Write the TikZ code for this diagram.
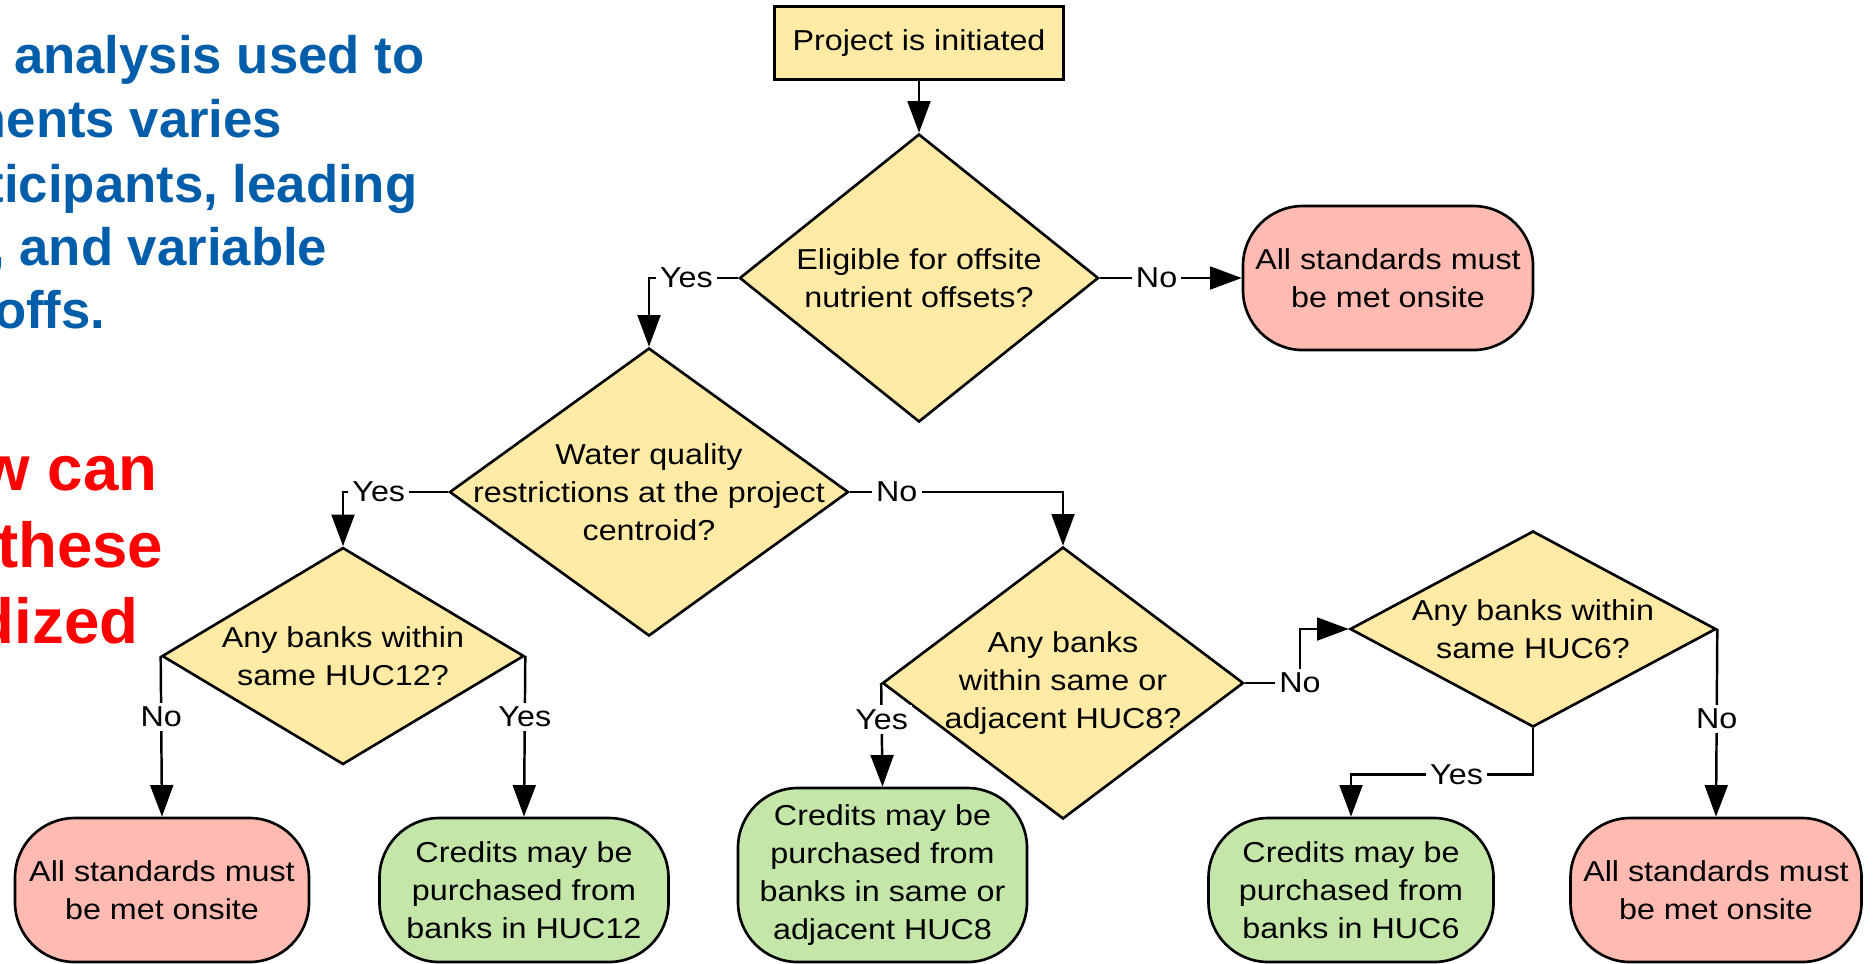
\documentclass[tikz,border=0pt]{standalone}
\usepackage{fontspec}
\setmainfont{Liberation Sans}
\newfontfamily\chartfont{Liberation Sans}[FakeStretch=1.12]
\usetikzlibrary{arrows.meta,shapes.geometric}

\definecolor{txtblue}{HTML}{005DAA}
\definecolor{txtred}{HTML}{FF0000}
\definecolor{qfill}{HTML}{FFEAA6}
\definecolor{nofill}{HTML}{FFBAB1}
\definecolor{okfill}{HTML}{C4E6A9}

\begin{document}
\begin{tikzpicture}[
  x=1cm, y=1cm,
  font=\chartfont\fontsize{8.2}{10.8}\selectfont,
  box/.style={draw, line width=0.75pt, fill=qfill, minimum width=2.89cm,
              minimum height=0.73cm, inner sep=0pt},
  ques/.style={diamond, draw, line width=0.75pt, fill=qfill, inner sep=0pt},
  qtext/.style={align=center, inner sep=0pt},
  term/.style={draw, line width=0.75pt, rounded corners=17pt, align=center,
               minimum width=2.89cm, minimum height=1.44cm, inner sep=0pt},
  onsite/.style={term, fill=nofill},
  credit/.style={term, fill=okfill},
  arr/.style={-{Triangle[length=9pt, width=6.5pt]}, line width=0.7pt},
  lab/.style={fill=white, inner sep=1.2pt},
  bluetxt/.style={anchor=base east, text=txtblue, inner sep=0pt,
                  font=\normalfont\fontsize{15}{18}\selectfont\bfseries},
  redtxt/.style={anchor=base east, text=txtred, inner sep=0pt,
                 font=\normalfont\fontsize{18.1}{21.7}\selectfont\bfseries}
]
\useasboundingbox (0,0) rectangle (18.73,-9.63);
\clip (0,0) rectangle (18.73,-9.63);

% ================= slide text, cut at the left edge =================
\node[bluetxt] (blue1) at (4.25,-0.73) {e analysis used to};
\node[bluetxt] (blue2) at (2.83,-1.37) {ments varies};
\node[bluetxt] (blue3) at (4.18,-2.02) {ticipants, leading};
\node[bluetxt] (blue4) at (3.28,-2.65) {, and variable};
\node[bluetxt] (blue5) at (1.06,-3.28) {offs.};
\node[redtxt] (red1) at (1.58,-4.90) {w can};
\node[redtxt] (red2) at (1.64,-5.67) {these};
\node[redtxt] (red3) at (1.39,-6.43) {dized};

% ================= top of the flow =================
\node[box] (proj) at (9.19,-0.43) {Project is initiated};
\node[ques, minimum width=3.59cm, minimum height=2.88cm,
      label={[qtext]center:{Eligible for offsite\\nutrient offsets?}}] (elig) at (9.19,-2.78) {};
\node[onsite, minimum width=2.90cm] (site1) at (13.88,-2.78) {All standards must\\be met onsite};
\node[ques, minimum width=3.99cm, minimum height=2.88cm,
      label={[qtext]center:{Water quality\\restrictions at the project\\centroid?}}] (wq) at (6.49,-4.92) {};

\draw[arr] (proj.south) -- (elig.north);
\draw[arr] (elig.east) -- node[lab, pos=0.4] {No} (site1.west);
\draw[arr] (elig.west) -| node[lab, pos=0.29] {Yes} (wq.north);

% ================= HUC12 branch =================
\node[ques, minimum width=3.62cm, minimum height=2.17cm,
      label={[qtext]center:{Any banks within\\same HUC12?}}] (huc12) at (3.43,-6.56) {};
\node[onsite, minimum width=2.94cm] (site2) at (1.62,-8.90) {All standards must\\be met onsite};
\node[credit] (cred12) at (5.24,-8.90) {Credits may be\\purchased from\\banks in HUC12};

\draw[arr] (wq.west) -| node[lab, pos=0.33] {Yes} (huc12.north);
\draw[arr] (huc12.west) -- node[lab, pos=0.38] {No} (site2.north);
\draw[arr] (huc12.east) -- node[lab, pos=0.38] {Yes} (cred12.north);

% ================= HUC8 / HUC6 branch =================
\node[ques, minimum width=3.61cm, minimum height=2.72cm,
      label={[qtext]center:{Any banks\\within same or\\adjacent HUC8?}}] (huc8) at (10.63,-6.83) {};
\node[credit, minimum height=1.74cm] (cred8) at (8.825,-8.75)
  {Credits may be\\purchased from\\banks in same or\\adjacent HUC8};
\node[ques, minimum width=3.66cm, minimum height=1.96cm,
      label={[qtext]center:{Any banks within\\same HUC6?}}] (huc6) at (15.33,-6.29) {};
\node[credit, minimum width=2.85cm] (cred6) at (13.51,-8.90) {Credits may be\\purchased from\\banks in HUC6};
\node[onsite, minimum width=2.91cm] (site3) at (17.16,-8.90) {All standards must\\be met onsite};
\coordinate (bend8) at (13.00,-6.29);

\draw[arr] (wq.east) -| node[lab, pos=0.11] {No} (huc8.north);
\draw[arr] (huc8.west) -- node[lab, pos=0.35] {Yes} (cred8.north);
\draw[arr] (huc8.east) -| node[lab, pos=0.5] {No} (bend8) -- (huc6.west);
\draw[arr] (huc6.south) -- ++(0,-0.46) -| node[lab, pos=0.21] {Yes} (cred6.north);
\draw[arr] (huc6.east) -- node[lab, pos=0.48] {No} (site3.north);

\end{tikzpicture}
\end{document}
